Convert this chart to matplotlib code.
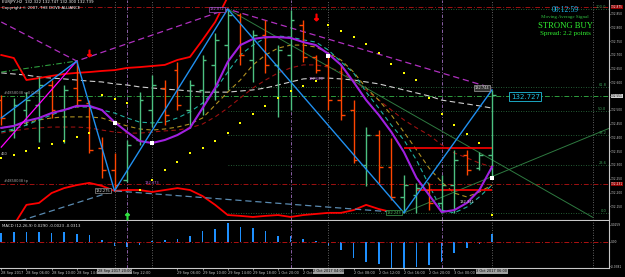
import numpy as np
import matplotlib.pyplot as plt
from matplotlib.transforms import blended_transform_factory

# EURJPY H2 bars, 28 Sep - 3 Oct 2017
bar_open = [132.536, 132.427, 132.500, 132.518, 132.591, 132.500, 132.580, 132.525, 132.362, 132.282,
            132.246, 132.391, 132.500, 132.580, 132.645, 132.500, 132.573, 132.664, 132.736, 132.845,
            132.682, 132.773, 132.664, 132.700, 132.809, 132.693, 132.664, 132.536, 132.500, 132.300,
            132.409, 132.293, 132.184, 132.191, 132.209, 132.162, 132.227, 132.336, 132.289, 132.336]
bar_high = [132.555, 132.544, 132.565, 132.620, 132.609, 132.591, 132.678, 132.536, 132.402, 132.344,
            132.391, 132.565, 132.627, 132.609, 132.675, 132.609, 132.700, 132.780, 132.867, 132.853,
            132.791, 132.827, 132.736, 132.864, 132.827, 132.700, 132.700, 132.664, 132.536, 132.438,
            132.427, 132.398, 132.264, 132.235, 132.235, 132.264, 132.355, 132.355, 132.347, 132.573]
bar_low = [132.445, 132.398, 132.445, 132.384, 132.471, 132.380, 132.511, 132.344, 132.253, 132.206,
           132.238, 132.373, 132.438, 132.445, 132.500, 132.435, 132.482, 132.536, 132.573, 132.664,
           132.602, 132.635, 132.475, 132.500, 132.675, 132.635, 132.500, 132.464, 132.307, 132.224,
           132.235, 132.173, 132.126, 132.126, 132.136, 132.126, 132.126, 132.264, 132.282, 132.253]
bar_close = [132.471, 132.518, 132.536, 132.591, 132.500, 132.573, 132.536, 132.355, 132.282, 132.227,
             132.373, 132.536, 132.591, 132.482, 132.518, 132.591, 132.682, 132.755, 132.845, 132.700,
             132.773, 132.664, 132.718, 132.827, 132.693, 132.645, 132.536, 132.482, 132.318, 132.409,
             132.293, 132.184, 132.227, 132.216, 132.162, 132.227, 132.318, 132.282, 132.336, 132.555]

# moving averages
ma_purple = [132.435, 132.442, 132.460, 132.471, 132.489, 132.500, 132.515, 132.515, 132.500, 132.456,
             132.420, 132.387, 132.380, 132.391, 132.409, 132.435, 132.507, 132.580, 132.675, 132.736,
             132.758, 132.765, 132.765, 132.762, 132.747, 132.736, 132.704, 132.664, 132.602, 132.536,
             132.482, 132.420, 132.347, 132.253, 132.191, 132.129, 132.136, 132.162, 132.209, 132.293]
ma_teal = [132.420, 132.431, 132.445, 132.464, 132.482, 132.500, 132.511, 132.511, 132.500, 132.489,
           132.471, 132.456, 132.453, 132.456, 132.471, 132.493, 132.525, 132.573, 132.638, 132.700,
           132.736, 132.762, 132.769, 132.765, 132.755, 132.747, 132.718, 132.675, 132.635, 132.565,
           132.507, 132.445, 132.391, 132.318, 132.227, 132.136, 132.126, 132.147, 132.184, 132.227]
ma_olive = [132.435, 132.442, 132.453, 132.464, 132.471, 132.475, 132.475, 132.475, 132.471, 132.456,
            132.442, 132.431, 132.427, 132.431, 132.438, 132.449, 132.471, 132.518, 132.565, 132.609,
            132.664, 132.700, 132.725, 132.736, 132.736, 132.729, 132.707, 132.682, 132.638, 132.580,
            132.536, 132.482, 132.420, 132.355, 132.289, 132.238, 132.198, 132.184, 132.202, 132.227]
ma_darkred = [132.416, 132.424, 132.431, 132.435, 132.438, 132.438, 132.438, 132.435, 132.427, 132.420,
              132.416, 132.416, 132.420, 132.424, 132.427, 132.435, 132.449, 132.475, 132.507, 132.544,
              132.580, 132.609, 132.635, 132.653, 132.664, 132.664, 132.656, 132.638, 132.609, 132.573,
              132.536, 132.500, 132.464, 132.435, 132.409, 132.373, 132.344, 132.326, 132.307, 132.293]
ma_white = [132.635, 132.631, 132.627, 132.620, 132.616, 132.613, 132.609, 132.605, 132.602, 132.595,
            132.591, 132.584, 132.580, 132.576, 132.573, 132.569, 132.565, 132.565, 132.565, 132.569,
            132.573, 132.580, 132.591, 132.602, 132.613, 132.616, 132.616, 132.613, 132.609, 132.602,
            132.595, 132.584, 132.573, 132.562, 132.551, 132.536, 132.529, 132.522, 132.515, 132.507]
nan = np.nan
band_upper = [132.700, 132.689, 132.609, 132.616, 132.624, 132.631, 132.635, 132.638, 132.642, 132.645,
              132.653, 132.656, 132.660, 132.664, 132.682, 132.693, 132.755, 132.820, 132.911, nan,
              nan, nan, nan, nan, nan, nan, nan, nan, nan, nan,
              nan, nan, nan, nan, nan, nan, nan, nan, nan, nan]
band_lower = [nan, 132.082, 132.155, 132.162, 132.198, 132.216, 132.227, 132.235, 132.224, 132.206,
              132.209, 132.209, 132.202, 132.209, 132.216, 132.209, 132.187, 132.155, 132.118, 132.115,
              132.111, 132.115, 132.118, 132.111, 132.118, 132.122, 132.126, 132.126, 132.136, 132.155,
              132.140, 132.129, nan, nan, nan, nan, nan, nan, nan, nan]
sar = [132.326, 132.336, 132.351, 132.362, 132.376, 132.387, 132.402, 132.416, 132.555, 132.540,
       132.525, 132.209, 132.246, 132.282, 132.311, 132.344, 132.362, 132.387, 132.416, 132.453,
       132.485, 132.515, 132.544, 132.569, 132.587, 132.605, 132.809, 132.787, 132.765, 132.740,
       132.707, 132.667, 132.635, 132.609, 132.544, 132.485, 132.445, 132.413, 132.380, 132.118]
macd_hist = [0.0135, 0.0150, 0.0150, 0.0150, 0.0135, 0.0150, 0.0120, 0.0105, 0.0030, -0.0075,
             -0.0090, -0.0045, 0.0005, 0.0030, 0.0045, 0.0090, 0.0165, 0.0195, 0.0285, 0.0225,
             0.0210, 0.0165, 0.0090, 0.0090, 0.0045, 0.0008, -0.0075, -0.0135, -0.0255, -0.0315,
             -0.0345, -0.0400, -0.0400, -0.0390, -0.0360, -0.0315, -0.0180, -0.0105, -0.0030, 0.0120]

# zigzag and hand drawn lines (bar index, price)
zz_x = [0, 6, 9, 18, 32, 39]
zz_y = [132.471, 132.678, 132.206, 132.867, 132.126, 132.573]
zz2_x = [0, 6]
zz2_y = [132.365, 132.678]
tl_high_x = [0, 6, 18, 39]
tl_high_y = [132.820, 132.678, 132.867, 132.580]
tl_low_x = [0, 9, 32]
tl_low_y = [132.075, 132.206, 132.126]
tl_green_x = [0, 6]
tl_green_y = [132.638, 132.678]
fan_down_x = [18, 47]
fan_down_y = [132.867, 132.110]
fan_up_x = [32, 48.4]
fan_up_y = [132.126, 132.435]
box_top, box_bottom = 132.362, 132.209
order_open, order_tp, order_sl = 132.551, 132.231, 132.875
fib_pcts = [0, 23.6, 38.2, 50.0, 61.8, 100.0]
vl_grey = [9, 12, 26, 39, 47]
vl_magenta = [10, 23, 35]
dots_x = [9, 12, 26, 39]
dots_y = [132.453, 132.380, 132.697, 132.253]
arrows_dn_x = [7, 25]
arrows_dn_y = [132.707, 132.838]
arrows_up_x = [10]
arrows_up_y = [132.115]

time_ticks = [0, 2, 4, 6, 10, 14, 16, 18, 20, 22, 24, 28, 30, 32, 34, 36]
time_labels = ['28 Sep 2017', '28 Sep 06:00', '28 Sep 10:00', '28 Sep 14:00', '28 Sep 22:00',
               '29 Sep 06:00', '29 Sep 10:00', '29 Sep 14:00', '29 Sep 18:00', '1 Oct 20:00',
               '2 Oct 00:00', '2 Oct 08:00', '2 Oct 12:00', '2 Oct 16:00', '2 Oct 20:00', '3 Oct 00:00']
time_boxes = ['28 Sep 2017 20:00', '2 Oct 2017 04:00', '3 Oct 2017 06:00']

x = np.arange(len(bar_close))
o, h, l, c = map(np.array, (bar_open, bar_high, bar_low, bar_close))
fg = '#c8c8c8'

fig = plt.figure(figsize=(6.25, 2.77), dpi=100, facecolor='black')
ax = fig.add_axes([0, 57 / 277, 609 / 625, 220 / 277], facecolor='black')
axm = fig.add_axes([0, 9 / 277, 609 / 625, 47 / 277], facecolor='black', sharex=ax)
ax.set_xlim(-0.1, 48.3)
ax.set_ylim(132.10, 132.90)
axm.set_ylim(-0.0405, 0.0315)

# fibonacci levels
fib_lv = [l[32] + (h[18] - l[32]) * p / 100 for p in fib_pcts]
ax.hlines(fib_lv, 18, 48.3, colors='#2f7a45', lw=0.6, linestyles=(0, (1, 2)))
for p, lv in zip(fib_pcts, fib_lv):
    ax.text(48.1, lv, '%.1f' % p, color='#3a9a55', fontsize=2.6, ha='right', va='bottom')

# order lines
ax.axhline(order_open, color='#2e9e3e', lw=0.7, ls=(0, (5, 2, 1, 2)))
ax.axhline(order_tp, color='#a01010', lw=0.7, ls=(0, (5, 2, 1, 2)))
ax.axhline(order_sl, color='#a01010', lw=0.7, ls=(0, (5, 2, 1, 2)))
ax.text(0.2, order_open + 0.004, '#4858038 sell 0.10', color='#a0a0a0', fontsize=2.6, va='bottom')
ax.text(0.2, order_tp + 0.004, '#4858038 tp', color='#a0a0a0', fontsize=2.6, va='bottom')
ax.text(0.0, 132.340, '460', color='#c0c0c0', fontsize=2.6, va='center')

for a in (ax, axm):
    for v in vl_grey:
        a.axvline(v, color='#808080', lw=0.6, ls=(0, (1, 2)))
    for v in vl_magenta:
        a.axvline(v, color='#a070c0', lw=0.6, ls=(0, (4, 2, 1, 2)))

# moving averages and bands
ax.plot(x, ma_white, color='#d0d0d0', lw=0.8, ls=(0, (5, 3)))
ax.plot(x, ma_darkred, color='#9a1010', lw=0.8, ls=(0, (4, 3)))
ax.plot(x, ma_olive, color='#b09020', lw=0.8, ls=(0, (4, 3)))
ax.plot(x, ma_teal, color='#20b0a0', lw=0.8, ls=(0, (4, 3)))
ax.plot(x, band_upper, color='red', lw=1.3)
ax.plot(x, band_lower, color='red', lw=1.3)
ax.plot(tl_low_x, tl_low_y, color='#5a8ab0', lw=0.9, ls=(0, (5, 3)))
ax.plot(tl_high_x, tl_high_y, color='#b030c0', lw=0.9, ls=(0, (5, 3)))
ax.plot(tl_green_x, tl_green_y, color='#2e9e3e', lw=0.8, ls=(0, (5, 2, 1, 2)))
ax.plot(fan_down_x, fan_down_y, color='#2e7a40', lw=0.7)
ax.plot(fan_up_x, fan_up_y, color='#2e7a40', lw=0.7)
ax.hlines(box_top, 32, 39, colors='red', lw=1.2)
ax.hlines(box_bottom, 33, 39, colors='red', lw=1.2)

# bars
up = c >= o
cols = np.where(up, '#4cc080', 'orangered')
ax.vlines(x, l, h, colors=cols, lw=1.0)
ax.hlines(o, x - 0.3, x, colors=cols, lw=1.0)
ax.hlines(c, x, x + 0.3, colors=cols, lw=1.0)

ax.plot(x, ma_purple, color='#a020e0', lw=1.5)
ax.plot(zz2_x, zz2_y, color='magenta', lw=0.9)
ax.plot(zz_x, zz_y, color='#2090f0', lw=1.0)
ax.scatter(x, sar, s=2.5, marker='s', color='yellow', lw=0, zorder=5)
ax.scatter(dots_x, dots_y, s=5, marker='s', color='white', lw=0, zorder=5)
ax.scatter(arrows_dn_x, arrows_dn_y, s=22, marker=r'$\downarrow$', color='red', zorder=6)
ax.scatter(arrows_up_x, arrows_up_y, s=22, marker=r'$\uparrow$', color='#30e040', zorder=6)

# price labels
ax.text(17.7, h[18], '132.872', color='#c060e0', fontsize=2.6, ha='right', va='center',
        bbox=dict(boxstyle='square,pad=0.15', fc='black', ec='#a050c0', lw=0.5))
ax.text(8.7, l[9], '132.275', color='#e0e0e0', fontsize=2.6, ha='right', va='center',
        bbox=dict(boxstyle='square,pad=0.15', fc='black', ec='#909090', lw=0.5))
ax.text(11.4, 132.235, '132.373', color='#c060e0', fontsize=2.6, va='center')
ax.text(24.4, 132.613, '132.600', color='#c060e0', fontsize=2.6, va='center')
ax.text(31.8, l[32], '132.243', color='#50c060', fontsize=2.6, ha='right', va='center',
        bbox=dict(boxstyle='square,pad=0.15', fc='black', ec='#40a050', lw=0.5))
ax.text(36.4, 132.165, '132.341', color='#e0e0e0', fontsize=2.6, va='center')
ax.text(38.8, 132.580, '132.744', color='#e0e0e0', fontsize=2.6, ha='right', va='center',
        bbox=dict(boxstyle='square,pad=0.15', fc='#303030', ec='#a0a0a0', lw=0.5))
ax.text(40.5, c[-1] - 0.006, '132.727', color='#20c0e0', fontsize=5, va='center',
        bbox=dict(boxstyle='square,pad=0.2', fc='black', ec='#20c0e0', lw=0.6))

# header and signal panel
ax.text(0.004, 0.998, 'EURJPY,H2  132.322 132.747 132.300 132.739', transform=ax.transAxes,
        color='white', fontsize=2.8, va='top')
ax.text(0.004, 0.972, 'Copyright \u00a9 2007, THE DOVE ALLIANCE', transform=ax.transAxes,
        color='white', fontsize=2.8, va='top')
ax.text(0.928, 0.955, '00:12:59', transform=ax.transAxes, color='#20b8f0', fontsize=5.5,
        ha='center', va='center', family='Liberation Serif')
ax.text(0.928, 0.922, 'Moving Average Signal', transform=ax.transAxes, color='#30c040',
        fontsize=3.6, ha='center', va='center', family='Liberation Serif')
ax.text(0.928, 0.882, 'STRONG BUY', transform=ax.transAxes, color='#30f030', fontsize=6.2,
        ha='center', va='center', family='Liberation Serif')
ax.text(0.928, 0.848, 'Spread: 2.2 points', transform=ax.transAxes, color='#30f030',
        fontsize=5, ha='center', va='center', family='Liberation Serif')

# right axis boxes
tr = blended_transform_factory(ax.transAxes, ax.transData)
for lv, fc, tc in ((order_open, '#d0d0d0', 'black'), (order_tp, '#900000', 'white'),
                   (order_sl, '#900000', 'white')):
    ax.text(1.003, lv, '%.3f' % lv, transform=tr, color=tc, fontsize=2.1, va='center',
            clip_on=False, zorder=10, bbox=dict(boxstyle='square,pad=0.08', fc=fc, ec='none'))

# MACD
axm.bar(x, macd_hist, width=0.13, color='#1e90ff')
axm.axhline(0, color='#b01010', lw=0.7, ls=(0, (5, 2, 1, 2)))
axm.text(0.004, 0.93, 'MACD (12,26,9) 0.0290 -0.0023 -0.0313', transform=axm.transAxes,
         color='#e0e0e0', fontsize=2.8, va='top')
trm = blended_transform_factory(axm.transData, axm.transAxes)
for bx, s in zip(vl_grey[0:1] + vl_grey[2:4], time_boxes):
    axm.text(bx, -0.03, s, transform=trm, color='black', fontsize=2.5, ha='center', va='top',
             clip_on=False, zorder=10, bbox=dict(boxstyle='square,pad=0.08', fc='#a0a0a0', ec='none'))

for a in (ax, axm):
    a.yaxis.tick_right()
    a.tick_params(colors=fg, labelsize=2.5, length=1.5, width=0.5, pad=0.8)
    a.tick_params(axis='y', labelsize=2.1, length=1, pad=0.5)
    for s in ('left', 'top'):
        a.spines[s].set_visible(False)
    for s in ('right', 'bottom'):
        a.spines[s].set_color(fg)
        a.spines[s].set_linewidth(0.8)

ax.set_yticks(np.arange(132.15, 132.89, 0.05))
ax.yaxis.set_major_formatter(plt.FormatStrFormatter('%.3f'))
ax.tick_params(axis='x', labelbottom=False, length=0)
axm.set_yticks([0.0259, 0.0, -0.0381])
axm.set_yticklabels(['0.0259', '0.00', '-0.0381'])
axm.set_xticks(time_ticks)
axm.set_xticklabels(time_labels, ha='left')

fig.savefig('out.png', dpi=100, facecolor='black')
